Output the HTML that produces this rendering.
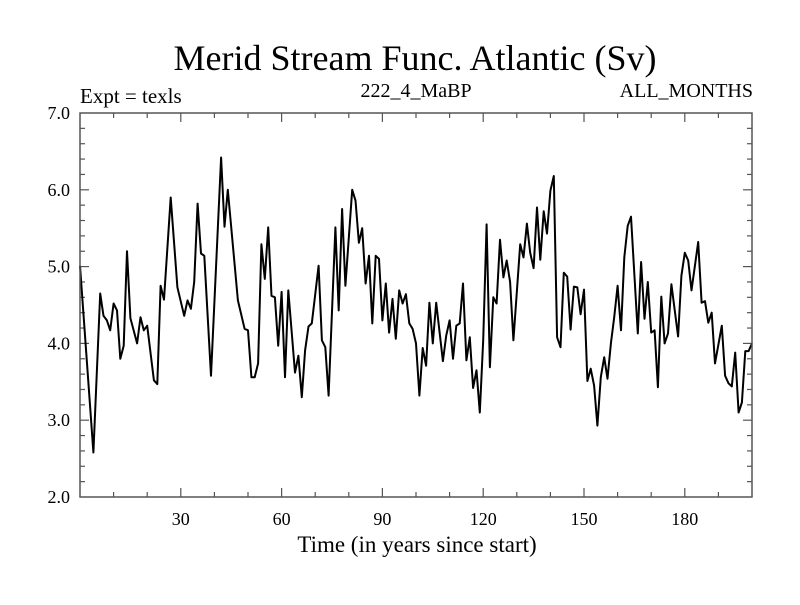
<!DOCTYPE html>
<html><head><meta charset="utf-8"><style>
body{margin:0;background:#fff}
svg text{font-family:"Liberation Serif",serif;fill:#000}
</style></head><body>
<svg id="c" width="800" height="600" viewBox="0 0 800 600">
<rect width="800" height="600" fill="#fff"/>
<text x="415" y="70" font-size="36" text-anchor="middle">Merid Stream Func. Atlantic (Sv)</text>
<text x="80" y="103" font-size="21">Expt = texls</text>
<text x="416" y="97" font-size="20" text-anchor="middle">222_4_MaBP</text>
<text x="753" y="97" font-size="20" text-anchor="end">ALL_MONTHS</text>
<text x="417" y="552" font-size="23" text-anchor="middle">Time (in years since start)</text>
<g id="ticks"></g>
<path id="line" fill="none" stroke="#000" stroke-width="2" stroke-linejoin="round"/>
<rect x="80" y="113" width="672" height="384" fill="none" stroke="#555" stroke-width="1.5"/>
</svg>
<script>
const years=[0,4,6,7,8,9,10,11,12,13,14,15,17,18,19,20,22,23,24,25,27,29,31,32,33,34,35,36,37,39,42,43,44,47,49,50,51,52,53,54,55,56,57,58,59,60,61,62,64,65,66,67,68,69,71,72,73,74,76,77,78,79,81,82,83,84,85,86,87,88,89,90,91,92,93,94,95,96,97,98,99,100,101,102,103,104,105,106,108,109,110,111,112,113,114,115,116,117,118,119,120,121,122,123,124,125,126,127,128,129,131,132,133,134,135,136,137,138,139,140,141,142,143,144,145,146,147,148,149,150,151,152,153,154,155,156,157,158,159,160,161,162,163,164,166,167,168,169,170,171,172,173,174,175,176,178,179,180,181,182,184,185,186,187,188,189,191,192,193,194,195,196,197,198,199,200];
const values=[5.01,2.58,4.65,4.36,4.3,4.17,4.52,4.43,3.8,3.97,5.2,4.33,4.0,4.34,4.17,4.23,3.52,3.47,4.75,4.57,5.9,4.73,4.36,4.56,4.45,4.8,5.82,5.17,5.14,3.58,6.42,5.52,6.0,4.56,4.19,4.17,3.56,3.56,3.74,5.29,4.84,5.51,4.62,4.6,3.97,4.67,3.56,4.69,3.62,3.84,3.3,3.91,4.22,4.26,5.01,4.04,3.95,3.32,5.51,4.43,5.75,4.75,6.0,5.86,5.31,5.5,4.78,5.14,4.26,5.14,5.1,4.3,4.78,4.14,4.58,4.06,4.69,4.52,4.64,4.26,4.19,4.0,3.32,3.94,3.71,4.53,4.0,4.53,3.77,4.1,4.3,3.8,4.23,4.26,4.78,3.78,4.08,3.42,3.65,3.1,4.04,5.55,3.69,4.6,4.52,5.35,4.86,5.08,4.8,4.04,5.29,5.12,5.56,5.18,4.98,5.77,5.09,5.72,5.43,5.99,6.18,4.08,3.95,4.92,4.87,4.18,4.74,4.73,4.38,4.7,3.51,3.67,3.45,2.93,3.56,3.82,3.54,4.0,4.34,4.75,4.17,5.12,5.53,5.65,4.13,5.06,4.32,4.8,4.14,4.17,3.43,4.61,4.0,4.13,4.77,4.09,4.88,5.18,5.08,4.69,5.32,4.53,4.55,4.27,4.4,3.74,4.23,3.58,3.48,3.44,3.88,3.1,3.23,3.9,3.9,4.0];
const xTickLabels=[30,60,90,120,150,180];
const yTickLabels=["2.0","3.0","4.0","5.0","6.0","7.0"];
const X0=80,X1=752,Y0=497,Y1=113;
const sx=v=>X0+(v-0)/200*(X1-X0);
const sy=v=>Y0-(v-2)/5*(Y0-Y1);
const NS="http://www.w3.org/2000/svg";
const g=document.getElementById('ticks');
function ln(x1,y1,x2,y2,name){const l=document.createElementNS(NS,'line');l.setAttribute('x1',x1);l.setAttribute('y1',y1);l.setAttribute('x2',x2);l.setAttribute('y2',y2);l.setAttribute('stroke','#555');l.setAttribute('stroke-width','1.2');


g.appendChild(l);}
for(let t=10;t<200;t+=10){const len=t%30===0?9:5;const x=sx(t);ln(x,Y0,x,Y0-len,'x-tick');ln(x,Y1,x,Y1+len,'x-tick-top');}
for(let i=1;i<25;i++){const v=2+i*0.2;const len=i%5===0?9:5;const y=sy(v);ln(X0,y,X0+len,y,'y-tick');ln(X1,y,X1-len,y,'y-tick-right');}
xTickLabels.forEach(t=>{const e=document.createElementNS(NS,'text');e.setAttribute('x',sx(t));e.setAttribute('y',525);e.setAttribute('font-size','18');e.setAttribute('text-anchor','middle');e.textContent=t;


g.appendChild(e);});
yTickLabels.forEach(t=>{const e=document.createElementNS(NS,'text');e.setAttribute('x',70);e.setAttribute('y',sy(parseFloat(t))+6);e.setAttribute('font-size','18');e.setAttribute('text-anchor','end');e.textContent=t;


g.appendChild(e);});
document.getElementById('line').setAttribute('d',years.map((y,i)=>(i?'L':'M')+sx(y).toFixed(1)+','+sy(values[i]).toFixed(1)).join(''));
</script>
</body></html>
